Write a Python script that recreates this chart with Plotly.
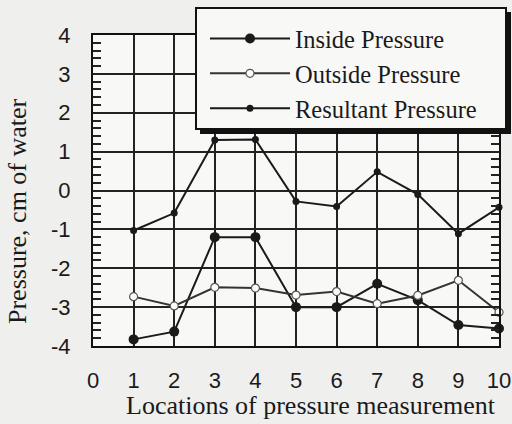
import plotly.graph_objects as go

# ---- data ----
locations = [1, 2, 3, 4, 5, 6, 7, 8, 9, 10]
inside_pressure = [-3.83, -3.63, -1.2, -1.2, -3.0, -3.0, -2.4, -2.82, -3.46, -3.55]
outside_pressure = [-2.73, -2.97, -2.49, -2.51, -2.69, -2.6, -2.91, -2.70, -2.31, -3.13]
resultant_pressure = [-1.03, -0.58, 1.3, 1.31, -0.28, -0.41, 0.48, -0.1, -1.11, -0.43]
x_ticks = [0, 1, 2, 3, 4, 5, 6, 7, 8, 9, 10]
y_ticks = [-4, -3, -2, -1, 0, 1, 2, 3, 4]
y_tick_labels = ["-4", "-3", "-2", "-1", "0", "1", "2", "3", "4"]

W, H = 512, 424
L, R, T, B = 93, 13, 35, 78
PW, PH = W - L - R, H - T - B

def px(xp):
    return (xp - L) / PW

def py(yp):
    return (H - B - yp) / PH

INK = "#1a1a1a"
PAPER = "#efefed"
PLOT = "#f8f8f6"
SERIF = "Liberation Serif"
SANS = "Liberation Sans"

fig = go.Figure()
fig.add_trace(go.Scatter(
    x=locations, y=inside_pressure, name="Inside Pressure", mode="lines+markers",
    line=dict(color=INK, width=2), cliponaxis=False,
    marker=dict(symbol="circle", size=10, color=INK)))
fig.add_trace(go.Scatter(
    x=locations, y=outside_pressure, name="Outside Pressure", mode="lines+markers",
    line=dict(color="#333333", width=2), cliponaxis=False,
    marker=dict(symbol="circle", size=8, color="#fbfbf9", line=dict(color="#555555", width=1.2))))
fig.add_trace(go.Scatter(
    x=locations, y=resultant_pressure, name="Resultant Pressure", mode="lines+markers",
    line=dict(color=INK, width=2), cliponaxis=False,
    marker=dict(symbol="circle", size=7, color=INK)))

# legend frame with drop shadow
fig.add_shape(type="rect", xref="paper", yref="paper",
              x0=px(200), x1=px(511), y0=py(134), y1=py(12),
              fillcolor="#111111", line=dict(width=0), layer="above")
fig.add_shape(type="rect", xref="paper", yref="paper",
              x0=px(196), x1=px(506), y0=py(129), y1=py(8),
              fillcolor=PLOT, line=dict(color="#111111", width=2), layer="above")

fig.update_layout(
    width=W, height=H,
    margin=dict(l=L, r=R, t=T, b=B, pad=0, autoexpand=False),
    paper_bgcolor=PAPER,
    plot_bgcolor=PLOT,
    showlegend=True,
    legend=dict(
        x=px(205), y=py(16), xanchor="left", yanchor="top",
        bgcolor="rgba(0,0,0,0)", borderwidth=0,
        font=dict(family=SERIF, size=24.5, color=INK),
        itemwidth=80, tracegroupgap=0,
    ),
    xaxis=dict(
        range=[0, 10], tickvals=x_ticks, ticks="", showgrid=True,
        gridcolor="#222222", gridwidth=1.5,
        showline=True, linecolor="#111111", linewidth=2, mirror=True,
        tickfont=dict(family=SANS, size=22, color=INK),
        ticklabelstandoff=14, zeroline=False,
    ),
    yaxis=dict(
        range=[-4, 4], tickvals=y_ticks, ticktext=y_tick_labels,
        ticks="inside", ticklen=8, tickwidth=1.5,
        tickcolor="#222222", showgrid=True, gridcolor="#222222", gridwidth=1.5,
        showline=True, linecolor="#111111", linewidth=2, mirror="ticks",
        minor=dict(dtick=0.2, ticks="inside", ticklen=8, tickwidth=1.5,
                   tickcolor="#222222", showgrid=False),
        tickfont=dict(family=SANS, size=22, color=INK),
        ticklabelstandoff=16, zeroline=False,
    ),
    annotations=[
        dict(text="Locations of pressure measurement", xref="paper", yref="paper",
             x=px(311), y=py(405), xanchor="center", yanchor="middle", showarrow=False,
             font=dict(family=SERIF, size=26, color=INK)),
        dict(text="Pressure, cm of water", xref="paper", yref="paper",
             x=px(17), y=py(211), xanchor="center", yanchor="middle", showarrow=False,
             textangle=-90, font=dict(family=SERIF, size=26, color=INK)),
    ],
)

fig.write_html(
    "out.html",
    config={"displayModeBar": False},
    post_script="document.body.style.margin='0';document.body.style.background='%s';" % PAPER,
)
